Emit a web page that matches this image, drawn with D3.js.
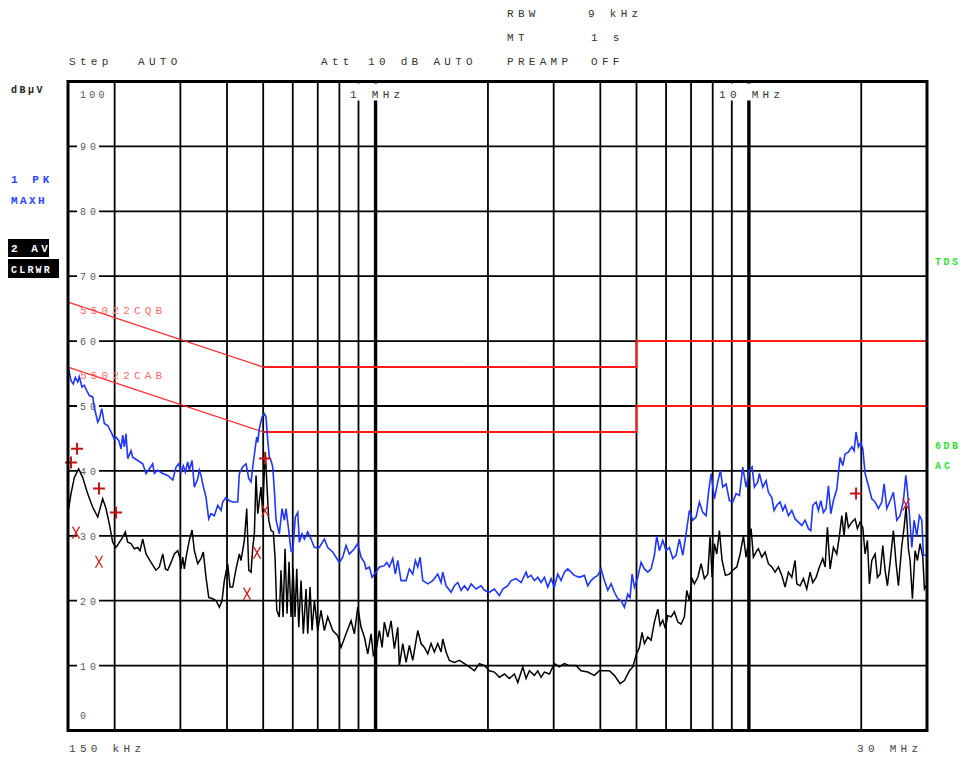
<!DOCTYPE html>
<html>
<head>
<meta charset="utf-8">
<script src="https://cdn.jsdelivr.net/npm/d3@7"></script>
<style>
body { margin: 0; background: #fff; }
text { font-family: "Liberation Mono", "DejaVu Sans Mono", monospace; }
</style>
</head>
<body>
<svg id="emi" width="963" height="757"></svg>
<script>
// trace 1: peak / max hold (frequency in kHz, level in dBuV)
const pkFreq = [150.6,152.8,155.0,156.9,159.3,160.8,163.5,165.8,168.3,171.1,174.7,176.4,180.2,182.0,184.7,187.7,191.6,195.6,199.6,201.7,
	205.1,208.0,210.2,212.3,214.5,216.8,221.3,223.6,230.6,237.8,242.7,247.7,252.9,255.5,260.9,269.1,277.5,286.2,292.1,297.0,
	301.2,305.5,309.3,313.9,317.0,322.4,327.0,333.9,337.2,340.8,344.3,351.4,357.3,362.5,369.9,377.8,385.5,389.5,397.5,405.8,
	414.3,427.3,431.6,440.7,449.8,457.4,463.9,468.8,476.4,480.5,483.5,488.2,496.4,503.5,508.8,514.2,519.4,524.8,530.3,535.7,
	541.3,552.3,561.6,569.7,575.6,585.3,593.7,599.9,609.7,618.8,624.9,635.4,644.5,658.1,671.6,685.5,707.0,729.1,744.6,767.8,
	799.8,816.7,833.5,850.7,877.4,896.0,914.4,933.2,943.0,962.4,978.6,1003,1023.7,1055.8,1071.5,1088.8,1111.9,1129.9,1146.7,1170.3,
	1206.9,1231.8,1257.8,1278.2,1297.3,1315.7,1337.8,1379.8,1422.9,1467.6,1497.8,1513.5,1544.7,1593.0,1625.9,1660.3,1694.4,1729.3,1765.9,1802.2,
	1858.6,1916.9,1956.4,2017.6,2080.9,2146.0,2191.4,2260.1,2306.5,2378.8,2453.3,2530.2,2556.9,2609.4,2663.2,2719.5,2775.4,2832.7,2892.6,2952.0,
	3012.8,3076.6,3139.8,3204.6,3272.4,3339.6,3408.4,3515.1,3625.3,3702.0,3778.2,3856.0,3937.6,4018.6,4101.4,4188.2,4274.3,4362.4,4454.7,4546.3,
	4640.0,4738.2,4805.6,4865.4,4935.1,5039.6,5143.1,5249.1,5360.2,5470.4,5583.2,5665.9,5758.0,5879.6,6000.7,6124.3,6253.7,6382.5,6514.0,6651.7,
	6788.7,6928.5,7074.9,7220.6,7369.3,7525.0,7680.0,7808.6,7920.6,8083.9,8254.9,8388.3,8513.1,8688.5,8867.4,9054.8,9241.3,9431.7,9631.0,9829.3,
	10032,10200,10346,10565,10670,10895,11120,11279,11518,11682,11878,12122,12326,12502,12760,13030,13298,13572,13859,14143,
	14435,14650,14832,15137,15354,15582,15834,16100,16331,16574,16841,17198,17552,17847,18102,18475,18866,19135,19373,19651,
	19944,20191,20479,20902,21344,21782,22231,22702,23026,23412,23894,24385,24901,25414,25936,26326,26587,26916,27317,27707,
	28171,28629,29055,29342,29836];
const pkLevel = [55.7,53.9,53.4,54.4,53.7,54.5,52.9,53.2,52.4,51.6,51.4,49.8,47.5,48.0,49.6,47.3,47.0,46.0,44.9,45.2,
	44.7,43.4,45.5,43.7,45.7,41.9,43.1,42.1,41.6,41.1,39.6,40.3,41.1,39.6,40.1,39.6,39.3,38.6,40.6,41.1,
	39.8,40.8,39.8,41.4,40.1,41.6,37.5,38.8,40.1,39.3,38.0,35.9,32.6,33.4,33.1,34.7,33.9,35.2,35.9,35.4,
	35.2,35.2,39.6,40.6,41.1,38.8,38.3,40.6,43.7,45.2,44.4,46.5,48.3,48.8,48.3,44.7,42.1,41.6,40.6,37.0,
	32.4,30.3,34.2,32.4,34.2,30.8,27.7,27.5,32.9,33.6,29.0,30.3,29.5,30.6,29.5,28.2,28.2,29.5,28.2,27.5,
	25.9,26.7,28.5,27.2,28.0,28.8,26.7,25.9,24.9,25.2,23.6,24.4,25.2,25.4,25.9,25.2,26.5,24.1,26.2,23.1,
	23.1,24.9,24.1,26.2,25.2,26.7,23.1,22.6,23.1,24.1,22.8,24.4,22.3,21.3,22.3,22.8,21.6,22.3,21.6,22.6,
	21.8,22.3,21.6,21.3,21.8,20.8,21.8,22.3,23.1,23.4,22.8,24.4,23.6,23.9,23.1,23.6,22.8,23.6,22.1,23.4,
	22.1,24.1,23.1,24.4,24.9,24.4,23.9,23.6,23.9,22.3,23.1,23.6,23.9,24.9,23.1,21.6,22.6,21.3,20.3,20.0,
	19.0,21.0,20.5,24.1,22.1,23.6,25.9,24.9,24.4,24.9,27.0,30.0,27.7,29.3,27.7,28.2,26.5,27.0,29.5,27.0,
	30.3,33.9,32.4,32.9,35.2,33.6,33.1,37.0,39.6,35.7,38.3,40.1,37.5,38.0,35.4,35.2,36.5,36.2,40.6,37.5,
	40.1,40.6,37.5,38.3,39.6,37.5,38.5,36.7,35.9,33.9,34.7,35.2,33.9,34.7,33.1,33.9,32.6,32.1,31.6,32.4,
	31.1,30.8,34.7,35.2,33.9,35.4,33.6,34.2,37.7,33.4,35.4,37.2,42.1,40.8,42.6,42.9,43.7,43.1,46.0,43.7,
	44.4,43.4,39.6,37.7,35.7,35.2,34.2,35.2,38.0,34.2,35.4,36.7,32.4,33.1,35.4,39.3,37.0,33.4,28.2,32.4,
	30.0,33.1,32.4,27.0,27.0];

// trace 2: average / clear write
const avFreq = [150.6,152.8,156.0,160.2,164.2,169.3,174.7,180.2,185.8,189.6,193.6,197.6,201.7,205.9,210.2,213.6,216.8,221.3,225.8,230.6,
	233.9,237.8,242.7,250.3,258.1,263.5,269.1,273.5,277.5,283.2,289.0,295.2,299.4,301.2,304.4,307.4,310.7,317.0,322.4,327.0,
	333.9,340.8,345.6,351.4,357.3,366.3,373.8,381.5,387.9,393.4,401.7,407.5,414.3,422.9,431.6,436.1,445.1,451.7,457.4,463.9,
	468.8,473.5,478.4,483.5,488.2,493.4,498.5,503.5,506.6,512.0,517.4,524.8,532.3,537.9,543.6,552.3,558.1,565.1,572.1,579.2,
	586.4,593.7,601.0,608.5,614.9,622.6,631.5,640.5,651.3,658.1,667.5,675.8,685.5,700.0,714.4,729.1,744.6,767.8,791.9,808.2,
	833.5,859.7,877.4,896.0,914.4,933.2,953.0,972.5,986.4,1003,1023.7,1040.9,1055.8,1078.2,1100.3,1123.0,1146.7,1158.1,1182.6,1206.9,
	1231.8,1257.8,1297.3,1323.9,1351.2,1379.8,1408.1,1437.2,1467.6,1497.8,1513.5,1544.7,1576.5,1625.9,1676.8,1729.3,1783.4,1839.3,1896.9,1956.4,
	2017.6,2080.9,2146.0,2213.3,2282.5,2354.1,2403.9,2479.1,2530.2,2582.2,2663.2,2719.5,2775.4,2832.7,2921.3,3012.8,3107.2,3204.6,3304.9,3444.2,
	3552.1,3702.0,3856.0,3976.8,4101.4,4229.8,4362.4,4518.1,4640.0,4785.1,4886.3,4986.9,5089.6,5174.9,5249.1,5360.2,5470.4,5583.2,5701.3,5782.5,
	5879.6,5975.0,6064.1,6188.7,6316.3,6449.9,6582.5,6718.2,6817.7,6928.5,7044.6,7145.6,7296.8,7446.8,7600.3,7761.1,7871.6,7969.6,8083.9,8203.6,
	8337.0,8476.8,8651.2,8867.4,9054.8,9280.9,9471.9,9666.5,9829.3,9994.0,10137,10282,10500,10604,10828,11051,11279,11518,11754,11997,
	12251,12502,12760,13030,13298,13438,13714,13996,14292,14587,14832,15137,15449,15776,16001,16231,16502,16841,17198,17477,
	17738,17991,18214,18475,18866,19253,19530,19857,20191,20479,20773,21031,21344,21782,22095,22464,22841,23168,23500,23894,
	24385,24795,25151,25683,26049,26373,26751,27031,27418,27877,28278,28751,29234,29526,29836];
const avLevel = [34.2,36.5,39.0,40.3,39.0,36.5,34.4,32.9,35.7,34.2,31.8,29.0,28.2,29.0,29.8,30.6,29.0,28.8,28.0,28.2,
	27.7,29.5,27.2,25.9,24.7,25.2,27.2,24.9,24.7,25.9,27.2,27.7,26.5,24.9,26.7,24.9,26.7,29.3,30.9,27.7,
	25.7,26.5,27.5,23.6,20.5,20.3,20.0,19.0,20.0,23.1,25.7,22.1,22.1,24.9,27.2,26.2,29.3,34.2,24.7,24.4,
	28.2,30.3,39.3,33.4,35.4,37.5,33.4,40.1,42.9,37.5,32.4,30.8,30.6,26.7,18.5,17.5,24.7,17.5,28.0,18.0,
	26.0,17.5,25.0,17.5,24.9,15.9,23.1,14.9,21.8,14.9,22.1,15.4,20.0,15.4,18.5,15.4,17.5,15.4,14.6,12.8,
	14.9,16.9,14.9,19.0,15.9,14.4,11.8,14.9,11.6,12.3,15.4,12.8,16.7,14.4,16.9,12.6,15.9,10.0,13.4,10.5,
	13.1,10.8,15.4,13.4,12.8,11.8,13.4,12.1,13.4,12.1,14.1,12.1,10.8,10.5,10.8,10.3,9.8,9.2,10.3,10.0,
	9.2,9.0,8.2,8.7,8.0,8.7,7.4,9.8,8.0,9.2,8.5,9.2,8.2,9.0,8.7,10.3,9.8,10.3,10.0,10.0,
	9.2,9.0,8.5,9.2,9.2,9.2,8.5,7.2,7.7,9.2,9.8,11.6,12.8,15.1,13.4,14.4,13.9,16.7,18.7,16.2,
	17.0,15.7,17.7,17.5,18.3,16.7,16.4,17.5,21.6,20.0,23.4,22.6,23.6,25.7,23.4,24.1,29.8,23.6,28.8,27.2,
	30.8,26.2,23.9,24.1,24.7,25.2,27.2,30.0,26.7,29.3,31.1,26.7,27.7,28.0,26.7,27.5,25.7,25.2,24.4,25.2,
	23.9,22.1,24.4,23.6,26.2,22.6,22.3,23.4,21.8,24.4,22.8,23.6,25.2,26.5,25.2,31.3,24.9,28.2,27.2,30.0,
	33.1,30.0,33.6,31.3,32.1,32.6,31.1,32.1,31.3,27.2,29.3,22.6,26.2,27.2,23.6,24.1,28.5,24.7,22.3,25.9,
	30.8,25.7,22.3,28.5,31.3,34.5,28.0,26.2,20.3,27.7,26.2,28.8,26.7,21.8,22.3];

// EN 55022 class B limit lines
const qpLimitFreq = [150, 500, 5000, 5000, 30000];
const qpLimitLevel = [66, 56, 56, 60, 60];
const avLimitFreq = [150, 500, 5000, 5000, 30000];
const avLimitLevel = [56, 46, 46, 50, 50];

// final measurement markers
const pkMarkFreq = [152.8, 158.6, 181.6, 201.7, 505.7, 19370];
const pkMarkLevel = [41.3, 43.4, 37.3, 33.6, 41.9, 36.5];
const avMarkFreq = [157.6, 181.6, 452.5, 481.4, 505.7, 26370];
const avMarkLevel = [30.5, 26.0, 21.1, 27.4, 33.9, 34.8];

const gridFreq = [200, 300, 400, 500, 600, 700, 800, 900, 2000, 3000, 4000, 5000, 6000, 7000, 8000, 9000, 20000];
const decadeFreq = [1000, 10000];
const levelTicks = [10, 20, 30, 40, 50, 60, 70, 80, 90];

const pL = 68, pR = 927, pT = 81.5, pB = 730.5;

const svg = d3.select('#emi');
const x = d3.scaleLog().domain([150, 30000]).range([pL, pR]);
const y = d3.scaleLinear().domain([0, 100]).range([pB, pT]);

const txt = (px, py, s, o = {}) => svg.append('text')
	.attr('x', px).attr('y', py).text(s)
	.attr('font-size', o.size || 11)
	.attr('letter-spacing', o.ls === undefined ? 4.3 : o.ls)
	.attr('font-weight', o.bold ? 'bold' : 'normal')
	.attr('fill', o.fill || '#333');

// header
txt(507, 17, 'RBW'); txt(588, 17, '9 kHz');
txt(507, 41, 'MT'); txt(591, 41, '1 s');
txt(69, 65, 'Step'); txt(138, 65, 'AUTO');
txt(321, 65, 'Att'); txt(368, 65, '10 dB AUTO');
txt(507, 65, 'PREAMP'); txt(591, 65, 'OFF');

// grid
const grid = svg.append('g').attr('stroke', '#000');
grid.selectAll('line.v').data(gridFreq).join('line')
	.attr('x1', d => x(d)).attr('x2', d => x(d))
	.attr('y1', pT).attr('y2', pB).attr('stroke-width', 1.8);
grid.selectAll('line.d').data(decadeFreq).join('line')
	.attr('x1', d => x(d)).attr('x2', d => x(d))
	.attr('y1', pT).attr('y2', pB).attr('stroke-width', 3.4);
grid.selectAll('line.h').data(levelTicks).join('line')
	.attr('x1', pL).attr('x2', pR)
	.attr('y1', d => y(d)).attr('y2', d => y(d)).attr('stroke-width', 1.8);

// level labels on white patches
const lab = svg.append('g');
levelTicks.forEach(v => {
	lab.append('rect').attr('x', 77).attr('y', y(v) - 6).attr('width', 22).attr('height', 12).attr('fill', '#fff');
	txt(80, y(v) + 4, String(v), { size: 10, ls: 4, fill: '#5a5a5a' });
});
lab.append('rect').attr('x', 76).attr('y', pT + 3).attr('width', 32).attr('height', 16).attr('fill', '#fff');
txt(80, 98, '100', { size: 10, ls: 3.3, fill: '#5a5a5a' });
txt(80, 719, '0', { size: 10, fill: '#5a5a5a' });
lab.append('rect').attr('x', 345).attr('y', pT + 2).attr('width', 62).attr('height', 17).attr('fill', '#fff');
txt(350, 98, '1 MHz', { fill: '#333' });
lab.append('rect').attr('x', 715).attr('y', pT + 2).attr('width', 70).attr('height', 17).attr('fill', '#fff');
txt(719, 98, '10 MHz', { fill: '#333' });

// limit lines
const lim = d3.line().x(d => x(d[0])).y(d => y(d[1]));
[[qpLimitFreq, qpLimitLevel], [avLimitFreq, avLimitLevel]].forEach(([f, l]) => {
	const pts = d3.zip(f, l);
	svg.append('path').attr('d', lim(pts.slice(0, 2))).attr('fill', 'none')
		.attr('stroke', '#ff2a2a').attr('stroke-width', 1.2);
	svg.append('path').attr('d', lim(pts.slice(1))).attr('fill', 'none')
		.attr('stroke', '#ff1a1a').attr('stroke-width', 2);
});
txt(80, 314, '55022CQB', { ls: 4.2, fill: '#ff6b6b' });
txt(80, 379, '55022CAB', { ls: 4.2, fill: '#ff6b6b' });

// traces
svg.append('clipPath').attr('id', 'plotclip').append('rect')
	.attr('x', pL).attr('y', pT).attr('width', pR - pL).attr('height', pB - pT);
const trace = d3.line().x(d => x(d[0])).y(d => y(d[1]));
svg.append('path').attr('clip-path', 'url(#plotclip)')
	.attr('d', trace(d3.zip(avFreq, avLevel)))
	.attr('fill', 'none').attr('stroke', '#000').attr('stroke-width', 1.5);
svg.append('path').attr('clip-path', 'url(#plotclip)')
	.attr('d', trace(d3.zip(pkFreq, pkLevel)))
	.attr('fill', 'none').attr('stroke', '#1f36ff').attr('stroke-width', 1.6);

// markers
d3.zip(pkMarkFreq, pkMarkLevel).forEach(([f, l]) => {
	const cx = x(f), cy = y(l);
	svg.append('path').attr('d', `M${cx - 6},${cy}H${cx + 6}M${cx},${cy - 6}V${cy + 6}`)
		.attr('stroke', '#c41414').attr('stroke-width', 2);
});
d3.zip(avMarkFreq, avMarkLevel).forEach(([f, l]) => {
	const cx = x(f), cy = y(l);
	svg.append('path').attr('d', `M${cx - 3.5},${cy - 6}L${cx + 3.5},${cy + 6}M${cx + 3.5},${cy - 6}L${cx - 3.5},${cy + 6}`)
		.attr('stroke', '#d42020').attr('stroke-width', 1.3);
});

// frame
svg.append('rect').attr('x', pL).attr('y', pT).attr('width', pR - pL).attr('height', pB - pT)
	.attr('fill', 'none').attr('stroke', '#000').attr('stroke-width', 3);

// side legends
txt(11, 93, 'dBµV', { size: 10, ls: 2.5, bold: true, fill: '#222' });
txt(11, 183, '1 PK', { ls: 4, bold: true, fill: '#2a44ff' });
txt(11, 204, 'MAXH', { ls: 2.4, bold: true, fill: '#2a44ff' });
svg.append('rect').attr('x', 8).attr('y', 239).attr('width', 41).attr('height', 18).attr('fill', '#000');
txt(11, 252, '2 AV', { ls: 3.5, bold: true, fill: '#fff' });
svg.append('rect').attr('x', 8).attr('y', 259).attr('width', 51).attr('height', 19).attr('fill', '#000');
txt(11, 273, 'CLRWR', { size: 10, ls: 2.2, bold: true, fill: '#fff' });
txt(935, 265, 'TDS', { size: 10, ls: 2.5, bold: true, fill: '#33e033' });
txt(935, 449, '6DB', { size: 10, ls: 2.5, bold: true, fill: '#33e033' });
txt(935, 469, 'AC', { size: 10, ls: 3, bold: true, fill: '#33e033' });

// frequency span
txt(69, 752, '150 kHz', { fill: '#444' });
txt(857, 752, '30 MHz', { fill: '#444' });
</script>
</body>
</html>
